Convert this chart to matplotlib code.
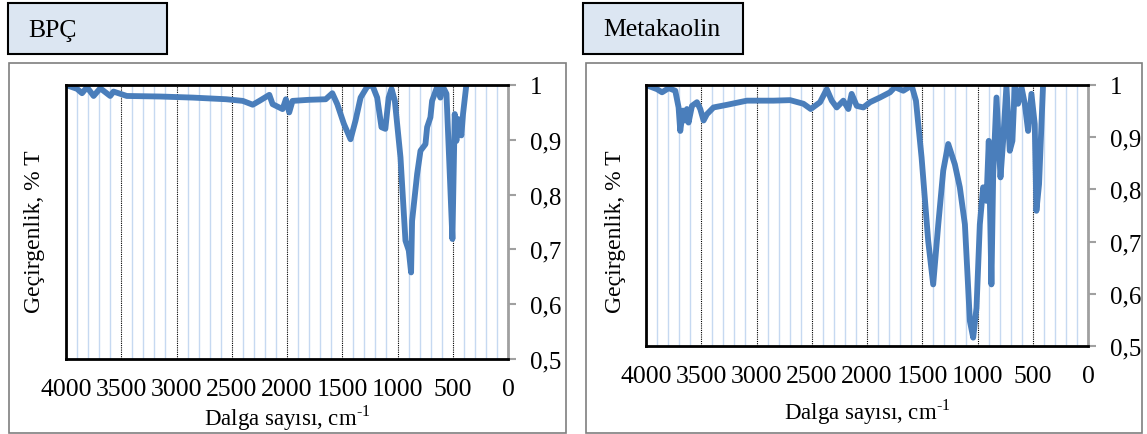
import numpy as np
import matplotlib
matplotlib.use("Agg")
import matplotlib.pyplot as plt
from matplotlib.patches import Rectangle
from matplotlib.ticker import MultipleLocator, FuncFormatter

plt.rcParams['font.family'] = ['Liberation Serif', 'DejaVu Serif']
plt.rcParams['mathtext.fontset'] = 'custom'
plt.rcParams['mathtext.rm'] = 'Liberation Serif'

# BPÇ spectrum (wavenumber, transmittance)
bpc_wn = [4000, 3900, 3855, 3810, 3750, 3690, 3600, 3570, 3450, 3150, 2850, 2550,
          2400, 2310, 2250, 2160, 2130, 2040, 2010, 1980, 1950, 1800, 1650, 1590,
          1545, 1485, 1425, 1380, 1334, 1274, 1229, 1184, 1145, 1110, 1080, 1054,
          1024, 973, 928, 898, 877, 868, 822, 792, 747, 732, 702, 687, 642, 612,
          597, 557, 527, 503, 482, 467, 452, 422, 407, 377]
bpc_t = [1.0, 0.993, 0.985, 0.996, 0.98, 0.994, 0.98, 0.988, 0.98, 0.979, 0.977, 0.974,
         0.971, 0.964, 0.971, 0.982, 0.965, 0.956, 0.974, 0.95, 0.971, 0.973, 0.974, 0.985,
         0.965, 0.929, 0.901, 0.935, 0.977, 0.997, 1.0, 0.977, 0.923, 0.92, 0.977, 0.993,
         0.971, 0.868, 0.716, 0.698, 0.658, 0.752, 0.838, 0.88, 0.892, 0.923, 0.941, 0.971,
         0.996, 0.977, 1.0, 0.984, 0.838, 0.719, 0.947, 0.898, 0.938, 0.908, 0.947, 1.0]

# Metakaolin spectrum
mk_wn = [4000, 3900, 3855, 3795, 3735, 3705, 3690, 3666, 3645, 3630, 3615, 3584, 3539,
         3509, 3479, 3449, 3389, 3268, 3087, 2846, 2696, 2575, 2509, 2425, 2364, 2319,
         2274, 2214, 2169, 2139, 2093, 2033, 1973, 1883, 1792, 1747, 1672, 1596, 1557,
         1506, 1446, 1401, 1355, 1310, 1265, 1205, 1160, 1114, 1069, 1039, 1009, 979,
         949, 919, 898, 874, 858, 828, 792, 768, 738, 708, 684, 663, 633, 602, 572,
         542, 512, 482, 467, 443, 407]
mk_t = [1.0, 0.992, 0.986, 0.994, 0.989, 0.957, 0.912, 0.951, 0.932, 0.954, 0.928, 0.96, 0.967,
        0.954, 0.932, 0.944, 0.957, 0.962, 0.97, 0.97, 0.971, 0.964, 0.954, 0.967, 0.992, 0.97,
        0.957, 0.97, 0.954, 0.983, 0.96, 0.957, 0.967, 0.976, 0.986, 0.996, 0.989, 0.999, 0.97,
        0.861, 0.701, 0.618, 0.733, 0.836, 0.887, 0.848, 0.804, 0.733, 0.548, 0.516, 0.573, 0.733,
        0.804, 0.778, 0.893, 0.618, 0.829, 0.976, 0.823, 0.893, 0.999, 0.874, 0.893, 0.999, 0.964, 0.996, 0.964,
        0.912, 0.983, 0.925, 0.759, 0.81, 0.999]

x_ticks = [4000, 3500, 3000, 2500, 2000, 1500, 1000, 500, 0]
y_ticks = [0.5, 0.6, 0.7, 0.8, 0.9, 1.0]

W, H = 1147, 435
fig = plt.figure(figsize=(W / 100, H / 100), dpi=100)


def fx(px):
    return px / W


def fy(py):
    return 1 - py / H


def ylab(v, pos):
    if abs(v - 1) < 1e-9:
        return '1'
    return ('%.1f' % v).replace('.', ',')


panels = [
    dict(name='BPÇ', wn=bpc_wn, t=bpc_t, frame=(9, 64, 566, 434), title=(8, 4, 167, 55),
         title_x=28, ax=(66, 86, 508, 360), ylx=35, xlab_y=418),
    dict(name='Metakaolin', wn=mk_wn, t=mk_t, frame=(586, 64, 1142, 434), title=(583, 4, 743, 55),
         title_x=603, ax=(646, 86, 1088, 347), ylx=615, xlab_y=412),
]

for p in panels:
    x0, y0, x1, y1 = p['frame']
    fig.patches.append(Rectangle((fx(x0), fy(y1)), fx(x1 - x0), (y1 - y0) / H,
                                 transform=fig.transFigure, fill=False,
                                 edgecolor='#7f7f7f', lw=1.2))
    x0, y0, x1, y1 = p['title']
    fig.patches.append(Rectangle((fx(x0), fy(y1)), fx(x1 - x0), (y1 - y0) / H,
                                 transform=fig.transFigure, facecolor='#dce6f2',
                                 edgecolor='black', lw=1.5))
    fig.text(fx(p['title_x']), fy((y0 + y1) / 2 + 1), p['name'], fontsize=18.5,
             ha='left', va='center')

    x0, y0, x1, y1 = p['ax']
    ax = fig.add_axes([fx(x0), fy(y1), fx(x1 - x0), (y1 - y0) / H])
    ax.set_xlim(4000, 0)
    ax.set_ylim(0.5, 1.0)
    ax.xaxis.set_minor_locator(MultipleLocator(100))
    ax.set_xticks(x_ticks)
    ax.set_xticklabels([str(v) for v in x_ticks])
    ax.set_yticks(y_ticks)
    ax.yaxis.set_major_formatter(FuncFormatter(ylab))
    ax.yaxis.tick_right()

    ax.grid(which='minor', axis='x', color='#c6d9f1', lw=1.0)
    ax.grid(which='major', axis='x', color='black', lw=0.8, ls=(0, (1, 1)))
    ax.grid(which='major', axis='y', visible=False)

    ax.tick_params(axis='x', which='both', length=0, pad=14, labelsize=18.5)
    ax.tick_params(axis='y', which='both', length=6, width=1.5, color='#a0a0a0',
                   direction='out', pad=10, labelsize=18)

    for s in ['left', 'bottom', 'top']:
        ax.spines[s].set_color('black')
        ax.spines[s].set_linewidth(2)
    ax.spines['right'].set_color('#a0a0a0')
    ax.spines['right'].set_linewidth(2)

    ax.plot(p['wn'], p['t'], color='#4a7ebb', lw=4.2, solid_joinstyle='round',
            solid_capstyle='round')

    fig.text(fx(p['ylx']), fy(232), 'Geçirgenlik, % T', rotation=90, fontsize=17,
             ha='center', va='center')
    fig.text(fx((x0 + x1) / 2), fy(p['xlab_y']), r'Dalga sayısı, cm$^{\text{-1}}$',
             fontsize=16.5, ha='center', va='center')

fig.savefig('out.png', dpi=100)
